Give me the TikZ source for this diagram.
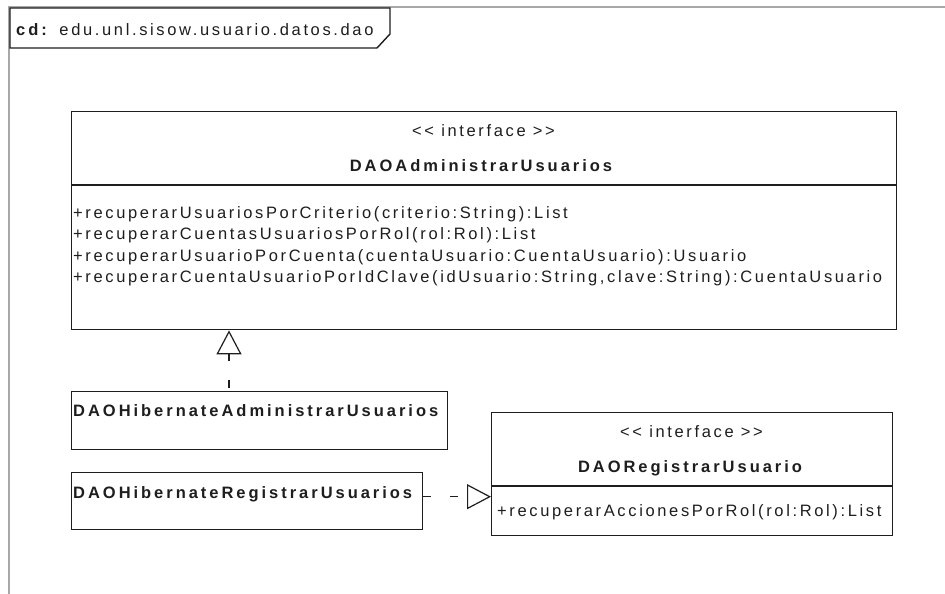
\documentclass[tikz,border=0pt]{standalone}
\usepackage{fontspec}
\setmainfont{Liberation Sans}[LetterSpace=16, BoldFeatures={LetterSpace=18}]
\usetikzlibrary{arrows.meta,calc}

\definecolor{ink}{HTML}{1E1E1E}
\definecolor{framegray}{HTML}{A8A8A8}

\newcommand\umlfont{\fontsize{16.5}{19}\selectfont}

\tikzset{
  classbox/.style={draw=ink, line width=1.4pt, rectangle, anchor=north west,
                   inner sep=0pt, fill=white},
  sepline/.style={draw=ink, line width=1.4pt},
  stereo/.style={anchor=base, inner sep=0pt, font=\umlfont},
  cname/.style={anchor=base, inner sep=0pt, font=\umlfont\bfseries},
  lname/.style={anchor=base west, inner sep=0pt, font=\umlfont\bfseries},
  member/.style={anchor=base west, inner sep=0pt, font=\umlfont},
  realize/.style={draw=ink, line width=1.2pt, dash pattern=on 8pt off 19pt,
                  -{Triangle[open, length=24pt, width=25pt, line width=1.2pt]}},
}

\begin{document}
\begin{tikzpicture}[x=1pt, y=-1pt, text=ink]
  \useasboundingbox (0,0) rectangle (945,594);
  \fill[white] (0,0) rectangle (945,594);

  % diagram frame and its name tab
  \draw[framegray, line width=2pt] (9,594) -- (9,7) -- (945,7);
  \draw[ink, line width=1.4pt, fill=white]
    (10,8) -- (390,8) -- (390,34) -- (377,48) -- (10,48) -- cycle;
  \node[member] (frametitle) at (16,36)
    {\textbf{cd:} edu.unl.sisow.usuario.datos.dao};

  % interface DAOAdministrarUsuarios
  \node[classbox, minimum width=825pt, minimum height=218pt] (adm) at (71,111) {};
  \draw[sepline] ($(adm.north west)+(0,74)$) -- ($(adm.north east)+(0,74)$);
  \node[stereo] (admstereo) at (483.5,136) {<{}< interface >{}>};
  \node[cname]  (admname)   at (481,171) {DAOAdministrarUsuarios};
  \node[member] (adm1) at (73,218) {+recuperarUsuariosPorCriterio(criterio:String):List};
  \node[member] (adm2) at (73,239) {+recuperarCuentasUsuariosPorRol(rol:Rol):List};
  \node[member] (adm3) at (73,261) {+recuperarUsuarioPorCuenta(cuentaUsuario:CuentaUsuario):Usuario};
  \node[member] (adm4) at (73,282) {+recuperarCuentaUsuarioPorIdClave(idUsuario:String,clave:String):CuentaUsuario};

  % class DAOHibernateAdministrarUsuarios
  \node[classbox, minimum width=376pt, minimum height=58pt] (hadm) at (71,391) {};
  \node[lname] (hadmname) at (73,416) {DAOHibernateAdministrarUsuarios};

  % class DAOHibernateRegistrarUsuarios
  \node[classbox, minimum width=351pt, minimum height=57pt] (hreg) at (71,472) {};
  \node[lname] (hregname) at (73,498) {DAOHibernateRegistrarUsuarios};

  % interface DAORegistrarUsuario
  \node[classbox, minimum width=401pt, minimum height=123pt] (reg) at (491,412) {};
  \draw[sepline] ($(reg.north west)+(0,74)$) -- ($(reg.north east)+(0,74)$);
  \node[stereo] (regstereo) at (691.5,437) {<{}< interface >{}>};
  \node[cname]  (regname)   at (690,472) {DAORegistrarUsuario};
  \node[member] (reg1) at (497,516) {+recuperarAccionesPorRol(rol:Rol):List};

  % realizations
  \coordinate (hadmtop) at ($(hadm.north west)+(158,0)$);
  \draw[realize, dash phase=24pt] (hadmtop) -- (hadmtop |- adm.south);
  \coordinate (hregside) at ($(hreg.east)+(0,-4.5)$);
  \draw[realize] (hregside) -- (hregside -| reg.west);
\end{tikzpicture}
\end{document}
